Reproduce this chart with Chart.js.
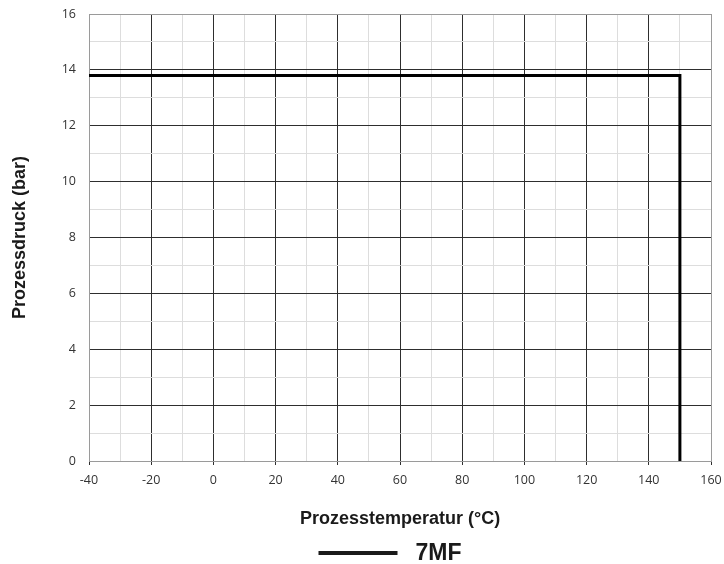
<!DOCTYPE html>
<html>
<head>
<meta charset="utf-8">
<title>Prozessdruck / Prozesstemperatur</title>
<script src="https://cdn.jsdelivr.net/npm/chart.js@4/dist/chart.umd.min.js"></script>
<style>
  html, body { margin: 0; padding: 0; background: #ffffff; }
  #wrap { width: 724px; height: 564px; }
</style>
</head>
<body>
<div id="wrap"><canvas id="chart" width="724" height="564"></canvas></div>
<script>
// Operating limit curve of the 7MF series
const seriesName = '7MF';
const temperature = [-40, 150, 150];   // °C
const pressure = [13.8, 13.8, 0];      // bar

// Labelled (major) ticks; the minor lines sit halfway between them
const xTickLabels = [-40, -20, 0, 20, 40, 60, 80, 100, 120, 140, 160];
const yTickLabels = [0, 2, 4, 6, 8, 10, 12, 14, 16];

const points = temperature.map((t, i) => ({ x: t, y: pressure[i] }));

const MAJOR = '#2e2e2e';
const MINOR = '#dddddd';
const FRAME = '#9a9a9a';
const TICKFONT = { family: '"Open Sans", "DejaVu Sans", sans-serif', size: 12.5 };
const TITLEFONT = { family: '"Liberation Sans", Arial, sans-serif', size: 18, weight: 'bold' };

function gridColor(labels) {
  const lo = labels[0], hi = labels[labels.length - 1];
  return ctx => {
    const v = ctx.tick ? ctx.tick.value : null;
    if (v === lo || v === hi) return FRAME;
    return labels.includes(v) ? MAJOR : MINOR;
  };
}

// Legend drawn as a long line sample followed by the series name
const lineLegend = {
  id: 'lineLegend',
  afterDraw(chart) {
    const ds = chart.data.datasets[0];
    const ctx = chart.ctx;
    const area = chart.chartArea;
    ctx.save();
    ctx.font = 'bold 23px "Liberation Sans", Arial, sans-serif';
    const tw = ctx.measureText(ds.label).width;
    const sample = 79, gap = 18;
    const total = sample + gap + tw;
    const cx = (area.left + area.right) / 2 - 10;
    const x0 = cx - total / 2;
    const y = 553;
    ctx.fillStyle = '#1a1a1a';
    ctx.fillRect(x0, y - 2, sample, 4);
    ctx.textBaseline = 'alphabetic';
    ctx.textAlign = 'left';
    ctx.fillText(ds.label, x0 + sample + gap, 560);
    ctx.restore();
  }
};

new Chart(document.getElementById('chart'), {
  type: 'scatter',
  data: {
    datasets: [{
      label: seriesName,
      data: points,
      showLine: true,
      borderColor: '#000000',
      backgroundColor: '#000000',
      borderWidth: 3,
      borderJoinStyle: 'miter',
      pointRadius: 0,
      pointHoverRadius: 0,
      tension: 0
    }]
  },
  options: {
    responsive: false,
    animation: false,
    layout: { padding: { top: 14, right: 13, bottom: 26, left: 0 } },
    plugins: {
      legend: { display: false },
      tooltip: { enabled: false }
    },
    scales: {
      x: {
        type: 'linear',
        min: -40,
        max: 160,
        afterFit: s => { s.height = 77; s.paddingLeft = 0; s.paddingRight = 0; },
        ticks: {
          stepSize: 10,
          autoSkip: false,
          maxRotation: 0,
          padding: 8,
          color: '#333333',
          font: TICKFONT,
          callback: v => xTickLabels.includes(v) ? String(v) : ''
        },
        grid: {
          color: gridColor(xTickLabels),
          lineWidth: 1,
          drawTicks: true,
          tickLength: 4,
          tickColor: ctx => (ctx.tick && xTickLabels.includes(ctx.tick.value)) ? MAJOR : 'rgba(0,0,0,0)'
        },
        border: { display: true, color: FRAME, width: 1 },
        title: {
          display: true,
          text: 'Prozesstemperatur (°C)',
          color: '#1a1a1a',
          font: TITLEFONT,
          padding: { top: 0, bottom: 8 }
        }
      },
      y: {
        type: 'linear',
        min: 0,
        max: 16,
        afterFit: s => { s.width = 89; s.paddingTop = 0; s.paddingBottom = 0; },
        ticks: {
          stepSize: 1,
          autoSkip: false,
          padding: 13,
          color: '#333333',
          font: TICKFONT,
          callback: v => yTickLabels.includes(v) ? String(v) : ''
        },
        grid: {
          color: gridColor(yTickLabels),
          lineWidth: 1,
          drawTicks: false
        },
        border: { display: true, color: FRAME, width: 1 },
        title: {
          display: true,
          text: 'Prozessdruck (bar)',
          color: '#1a1a1a',
          font: TITLEFONT,
          padding: { top: 9, bottom: 0 }
        }
      }
    }
  },
  plugins: [lineLegend]
});
</script>
</body>
</html>
